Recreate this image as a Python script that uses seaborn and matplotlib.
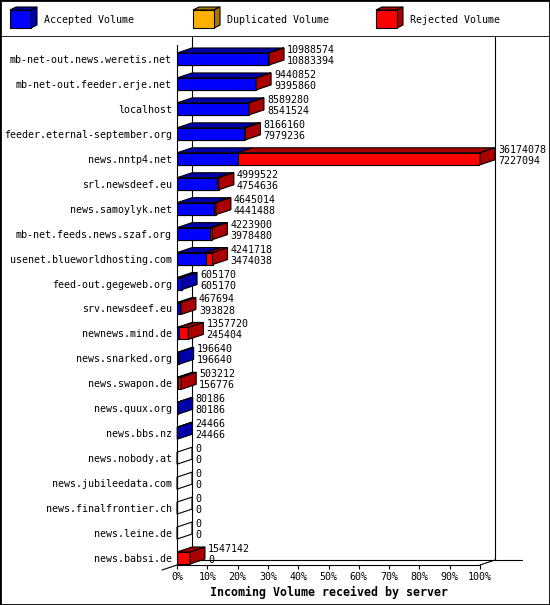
import numpy as np
import pandas as pd
import matplotlib
matplotlib.use("Agg")
import matplotlib.pyplot as plt
from matplotlib.patches import Polygon, Rectangle
import seaborn as sns

# --- data ---
servers = [
    "mb-net-out.news.weretis.net", "mb-net-out.feeder.erje.net", "localhost",
    "feeder.eternal-september.org", "news.nntp4.net", "srl.newsdeef.eu",
    "news.samoylyk.net", "mb-net.feeds.news.szaf.org", "usenet.blueworldhosting.com",
    "feed-out.gegeweb.org", "srv.newsdeef.eu", "newnews.mind.de", "news.snarked.org",
    "news.swapon.de", "news.quux.org", "news.bbs.nz", "news.nobody.at",
    "news.jubileedata.com", "news.finalfrontier.ch", "news.leine.de", "news.babsi.de",
]
total_volume = [10988574, 9440852, 8589280, 8166160, 36174078, 4999522, 4645014,
                4223900, 4241718, 605170, 467694, 1357720, 196640, 503212, 80186,
                24466, 0, 0, 0, 0, 1547142]
accepted_volume = [10883394, 9395860, 8541524, 7979236, 7227094, 4754636, 4441488,
                   3978480, 3474038, 605170, 393828, 245404, 196640, 156776, 80186,
                   24466, 0, 0, 0, 0, 0]
legend_labels = ["Accepted Volume", "Duplicated Volume", "Rejected Volume"]
x_ticks = list(range(0, 101, 10))
x_ticklabels = [f"{t}%" for t in x_ticks]

BLUE, BLUE_D = "#0000FF", "#0000AA"
ORANGE, ORANGE_D = "#FFB000", "#AA7800"
RED, RED_D = "#FF0000", "#AA0000"
FONT = "DejaVu Sans Mono"

sns.set_style("white")
plt.rcParams["font.family"] = [FONT, "DejaVu Sans"]
for k in ["text.color", "axes.labelcolor", "xtick.color", "ytick.color"]:
    plt.rcParams[k] = "black"

vmax = max(total_volume)
df = pd.DataFrame({
    "server": servers,
    "total": [v / vmax * 100 for v in total_volume],
    "accepted": [v / vmax * 100 for v in accepted_volume],
})

W, H = 550, 605
fig = plt.figure(figsize=(W / 100, H / 100), dpi=100)
fig.patch.set_facecolor("white")

# plot axes: front plane, pixels 177..480 wide, 45..565 tall
ax_l, ax_r, ax_t, ax_b = 177, 480, 45, 565
ax = fig.add_axes([ax_l / W, (H - ax_b) / H, (ax_r - ax_l) / W, (ax_b - ax_t) / H])

row_px = (558 - 59) / (len(servers) - 1)
y_top = -(59 - ax_t) / row_px
y_bot = (len(servers) - 1) + (ax_b - 558) / row_px
bar_h = 12 / row_px

px_x = 100 / (ax_r - ax_l)              # % per pixel
px_y = (y_bot - y_top) / (ax_b - ax_t)  # rows per pixel
DX, DY = 15 * px_x, 5 * px_y            # 3d depth offset

lw = 0.8
sns.barplot(data=df, x="total", y="server", order=servers, orient="h",
            color=RED, saturation=1, width=bar_h, edgecolor="black",
            linewidth=lw, ax=ax, zorder=3)
sns.barplot(data=df, x="accepted", y="server", order=servers, orient="h",
            color=BLUE, saturation=1, width=bar_h, edgecolor="black",
            linewidth=lw, ax=ax, zorder=3)

ax.set_xlim(0, 100)
ax.set_ylim(y_bot, y_top)

# back wall and floor
floor_back = y_bot - DY
top_y = y_top - 8 * px_y
ln = dict(color="black", lw=lw, clip_on=False, zorder=1)
ax.plot([DX, DX], [floor_back, top_y], **ln)
ax.plot([100 + DX, 100 + DX], [floor_back, top_y], **ln)
ax.plot([DX, 100 + DX + 27 * px_x], [floor_back, floor_back], **ln)
ax.plot([0, -DX], [y_bot, y_bot + DY], **ln)
ax.plot([100, 100 + DX], [y_bot, y_bot - DY], **ln)

# 3d faces of every bar
for i, row in df.iterrows():
    t, b = i - bar_h / 2, i + bar_h / 2
    acc, tot = row["accepted"], row["total"]
    segs = [(0, acc, BLUE_D), (acc, tot, RED_D)]
    for x0, x1, c in segs:
        if x1 > x0:
            ax.add_patch(Polygon([(x0, t), (x1, t), (x1 + DX, t - DY), (x0 + DX, t - DY)],
                                 closed=True, facecolor=c, edgecolor="black",
                                 lw=lw, clip_on=False, zorder=4))
    side_c = RED_D if tot > acc else BLUE_D
    ax.add_patch(Polygon([(tot, t), (tot + DX, t - DY), (tot + DX, b - DY), (tot, b)],
                         closed=True, facecolor=side_c if tot > 0 else "none",
                         edgecolor="black", lw=lw, clip_on=False, zorder=4))
    ax.annotate(f"{total_volume[i]}", (tot + DX, i), xytext=(3, 9),
                textcoords="offset pixels", fontsize=7.2, va="center", ha="left",
                family=FONT, annotation_clip=False)
    ax.annotate(f"{accepted_volume[i]}", (tot + DX, i), xytext=(3, -2),
                textcoords="offset pixels", fontsize=7.2, va="center", ha="left",
                family=FONT, annotation_clip=False)

for s in ["top", "right"]:
    ax.spines[s].set_visible(False)
for s in ["left", "bottom"]:
    ax.spines[s].set_color("black")
    ax.spines[s].set_linewidth(lw)
ax.spines["left"].set_zorder(2)

ax.set_xticks(x_ticks)
ax.set_xticklabels(x_ticklabels)
ax.tick_params(axis="x", length=2.9, width=lw, color="black", pad=2.2,
               labelsize=7.2, direction="out", bottom=True)
ax.tick_params(axis="y", length=0, pad=3.6, labelsize=7.2)
ax.set_xlabel("Incoming Volume received by server", fontsize=8.4,
              fontweight="bold", family=FONT, labelpad=3)
ax.set_ylabel("")
ax.grid(False)
ax.set_facecolor("none")

# legend strip
lg = fig.add_axes([0, 1 - 37 / H, 1, 37 / H])
lg.set_xlim(0, W)
lg.set_ylim(37, 0)
lg.set_xticks([])
lg.set_yticks([])
for s in lg.spines.values():
    s.set_visible(False)
lg.axhline(36.5, color="black", lw=1.2)
for x, lab, (c, cd) in zip([10, 193, 376], legend_labels,
                           [(BLUE, BLUE_D), (ORANGE, ORANGE_D), (RED, RED_D)]):
    lg.add_patch(Polygon([(x, 10), (x + 6, 7), (x + 27, 7), (x + 21, 10)],
                         closed=True, facecolor=cd, edgecolor="black", lw=lw))
    lg.add_patch(Polygon([(x + 21, 10), (x + 27, 7), (x + 27, 25), (x + 21, 28)],
                         closed=True, facecolor=cd, edgecolor="black", lw=lw))
    lg.add_patch(Rectangle((x, 10), 21, 18, facecolor=c, edgecolor="black", lw=lw))
    lg.text(x + 34, 20, lab, fontsize=7.2, va="center", ha="left", family=FONT)

fig.patches.append(Rectangle((0, 0), 1, 1, transform=fig.transFigure, fill=False,
                             edgecolor="black", lw=2))

fig.savefig("out.png", dpi=100)
